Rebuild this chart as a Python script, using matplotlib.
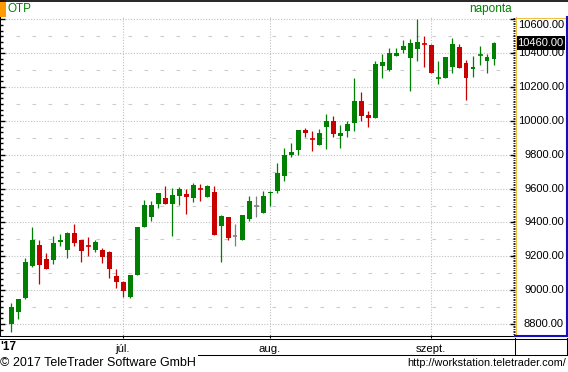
import numpy as np
import matplotlib
matplotlib.use("Agg")
import matplotlib.pyplot as plt
from matplotlib.lines import Line2D
from matplotlib.patches import Rectangle
from matplotlib import transforms

plt.rcParams['font.family'] = ['Liberation Sans', 'DejaVu Sans']

# daily OHLC, OTP, June 9 - Sept 14 2017
opens = [8802, 8873, 8955, 9143, 9267, 9184, 9180, 9286, 9239, 9338,
         9296, 9262, 9239, 9239, 9227, 9084, 9048, 8961, 9091, 9375,
         9434, 9511, 9544, 9511, 9558, 9568, 9546, 9598, 9552, 9580,
         9381, 9432, 9318, 9298, 9422, 9497, 9457, 9574, 9588, 9676,
         9798, 9830, 9946, 9893, 9857, 9966, 9999, 9912, 9942, 9989,
         10117, 10034, 10017, 10326, 10300, 10385, 10420, 10373, 10426, 10456,
         10450, 10249, 10253, 10320, 10436, 10342, 10308, 10387, 10355, 10367]
highs = [8924, 8950, 9190, 9373, 9298, 9219, 9320, 9332, 9345, 9391,
         9298, 9314, 9296, 9249, 9230, 9125, 9054, 9092, 9373, 9532,
         9527, 9576, 9615, 9603, 9609, 9597, 9633, 9627, 9621, 9615,
         9444, 9435, 9391, 9444, 9556, 9556, 9586, 9586, 9751, 9840,
         9869, 9948, 9958, 9940, 9952, 10040, 10029, 9975, 9999, 10253,
         10170, 10058, 10354, 10395, 10430, 10430, 10478, 10483, 10602, 10501,
         10456, 10354, 10379, 10489, 10454, 10359, 10383, 10442, 10395, 10466]
lows = [8755, 8830, 8950, 9137, 9038, 9125, 9156, 9262, 9192, 9262,
        9168, 9202, 9227, 9162, 9072, 9014, 8961, 8955, 9089, 9373,
        9408, 9487, 9509, 9322, 9505, 9452, 9522, 9528, 9550, 9325,
        9167, 9298, 9262, 9298, 9410, 9434, 9455, 9499, 9576, 9647,
        9788, 9800, 9906, 9824, 9855, 9836, 9906, 9842, 9906, 9942,
        10001, 9965, 10015, 10255, 10294, 10383, 10403, 10178, 10355, 10316,
        10283, 10220, 10251, 10285, 10312, 10125, 10261, 10332, 10285, 10332]
closes = [8900, 8948, 9166, 9298, 9150, 9127, 9278, 9298, 9338, 9278,
          9233, 9256, 9284, 9198, 9127, 9050, 8997, 9089, 9373, 9503,
          9503, 9574, 9511, 9562, 9597, 9552, 9621, 9594, 9615, 9327,
          9438, 9310, 9318, 9444, 9527, 9497, 9556, 9582, 9692, 9798,
          9816, 9946, 9930, 9889, 9928, 9999, 9924, 9928, 9981, 10117,
          10030, 10017, 10336, 10348, 10401, 10401, 10442, 10460, 10466, 10452,
          10285, 10253, 10377, 10454, 10314, 10255, 10318, 10391, 10377, 10460]

month_idx = [16, 37, 60]
month_labels = ['júl.', 'aug.', 'szept.']
price_ticks = [8800, 9000, 9200, 9400, 9600, 9800, 10000, 10200, 10400, 10600]

W, H = 568, 372
def fx(px):
    return px / W
def fy(py):
    return 1 - py / H

fig = plt.figure(figsize=(W / 100, H / 100), dpi=100)
fig.patch.set_facecolor('white')

ax = fig.add_axes([fx(0), fy(335), fx(515), (335 - 17) / H])
ax.set_xlim(-11 / 7, 72)
ax.set_ylim(8735, 10614)
ax.set_facecolor('white')
for s in ['top', 'right', 'bottom']:
    ax.spines[s].set_visible(False)
ax.spines['left'].set_color('black')
ax.spines['left'].set_linewidth(1.5)

# grid
grid_col = '#c0c0c0'
for p in price_ticks:
    ax.axhline(p, color=grid_col, lw=0.8, ls=(0, (1, 1.5)), zorder=0)
for p in range(8900, 10600, 200):
    ax.axhline(p, color='#cccccc', lw=0.8, ls=(0, (3.2, 11.2)), zorder=0)
for m in month_idx:
    ax.axvline(m, color=grid_col, lw=0.8, ls=(0, (1, 1.5)), zorder=0)

# candles
o = np.array(opens); hi = np.array(highs); lo = np.array(lows); c = np.array(closes)
x = np.arange(len(o))
cols = np.where(c > o, '#008000', np.where(c < o, '#c80000', '#808080'))
bw = 5 / 7
ax.vlines(x, lo, hi, colors=cols, lw=0.9, zorder=2)
big = np.abs(c - o) >= 8
ax.bar(x[big], np.abs(c - o)[big], bottom=np.minimum(o, c)[big], width=bw,
       color=cols[big], linewidth=0, zorder=3)
small = ~big
ax.hlines(((o + c) / 2)[small], x[small] - bw / 2, x[small] + bw / 2,
          colors=cols[small], lw=1.2, zorder=3)

# left ticks
ax.set_yticks(price_ticks)
ax.set_yticks(np.arange(8800 - 200, 10800, 200 / 6), minor=True)
ax.tick_params(axis='y', which='major', direction='in', length=3.5, width=1,
               left=True, labelleft=False, right=False)
ax.tick_params(axis='y', which='minor', direction='in', length=2, width=1,
               left=True, right=False)
ax.set_ylim(8735, 10614)

# x ticks
ax.set_xticks(month_idx)
ax.set_xticklabels(month_labels, fontsize=8.2)
ax.tick_params(axis='x', direction='out', length=2.5, width=0.8, pad=4,
               colors='black')

# right axis
ax2 = ax.twinx()
ax2.set_ylim(ax.get_ylim())
for s in ['top', 'left', 'bottom', 'right']:
    ax2.spines[s].set_visible(False)
ax2.set_yticks(price_ticks)
ax2.set_yticks(np.arange(8740, 10620, 10), minor=True)
ax2.tick_params(axis='y', which='major', direction='in', length=3.5, width=1,
                labelright=False)
ax2.tick_params(axis='y', which='minor', direction='in', length=1.5, width=0.6)
ax2.set_ylim(8735, 10614)

btr = transforms.blended_transform_factory(fig.transFigure, ax2.transData)
for p in price_ticks:
    t = btr
    if p == 10600:
        t = btr + transforms.ScaledTranslation(0, -5.5 / 100, fig.dpi_scale_trans)
    ax2.text(fx(564), p, f'{p:.2f}', transform=t, ha='right', va='center',
             fontsize=8, color='black', clip_on=False)
ax2.text(fx(563.5), closes[-1], f'{closes[-1]:.2f}', transform=btr, ha='right',
         va='center', fontsize=8, color='white', clip_on=False,
         bbox=dict(boxstyle='square,pad=0.15', fc='black', ec='none'))

# frame lines
def hline(y, x0, x1, color='black', lw=0.75):
    fig.add_artist(Line2D([fx(x0), fx(x1)], [fy(y), fy(y)],
                          transform=fig.transFigure, color=color, lw=lw))
def vline(xp, y0, y1, color='black', lw=0.75):
    fig.add_artist(Line2D([fx(xp), fx(xp)], [fy(y0), fy(y1)],
                          transform=fig.transFigure, color=color, lw=lw))

hline(0.5, 0, 568, lw=1.2)
hline(335.5, 0, 515)
hline(338.5, 0, 568)
vline(515, 338, 355)
vline(567, 338, 355)
hline(355, 198, 568)
vline(515.5, 17, 335, color='#f0c040')
hline(17.5, 515, 567, color='#f0c040')
vline(566.5, 17, 336, color='#1010c0', lw=1.5)
hline(335.5, 515, 567, color='#1010c0', lw=1.5)

# header
fig.add_artist(Rectangle((fx(0), fy(16.7)), fx(5.7), 16.7 / H,
                         transform=fig.transFigure, color='#ff9a00', lw=0))
fig.text(fx(8), fy(8.5), 'OTP', color='#008000', fontsize=8.5, va='center', ha='left')
fig.text(fx(511.5), fy(9), 'naponta', color='#008000', fontsize=8.5,
         va='center', ha='right')

fig.text(fx(0.5), fy(347), "'17", fontsize=8.5, fontweight='bold', va='center',
         ha='left')
fig.text(fx(0), fy(363), '© 2017 TeleTrader Software GmbH', fontsize=9,
         va='center', ha='left')
fig.text(fx(566), fy(363), 'http://workstation.teletrader.com/', fontsize=7.8,
         va='center', ha='right')

fig.savefig('out.png', dpi=100)
